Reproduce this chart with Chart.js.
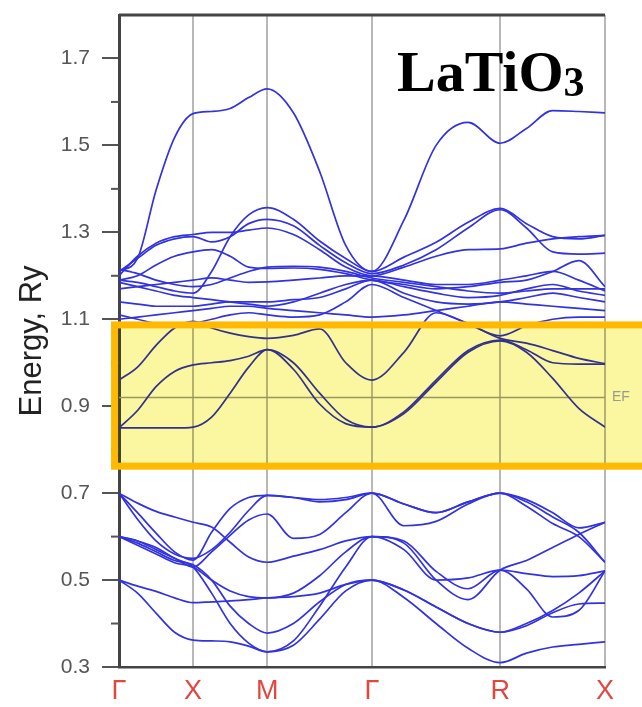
<!DOCTYPE html>
<html><head><meta charset="utf-8">
<script src="https://cdn.jsdelivr.net/npm/chart.js@4"></script>
<style>html,body{margin:0;padding:0;background:#fff;}canvas{display:block}</style>
</head><body>
<canvas id="c" width="642" height="707"></canvas>
<script>
// High-symmetry path
const K_POS = [0, 0.5, 1.0, 1.707, 2.573, 3.280];
const K_LABELS = ['Γ', 'X', 'M', 'Γ', 'R', 'X'];
// k sampling along Γ-X-M-Γ-R-X
const K = [0, 0.125, 0.25, 0.375, 0.5, 0.625, 0.75, 0.875, 1.0, 1.177, 1.354, 1.530, 1.707, 1.923, 2.140, 2.356, 2.573, 2.750, 2.927, 3.103, 3.280];
const Y_TICKS = [0.3, 0.5, 0.7, 0.9, 1.1, 1.3, 1.5, 1.7];
const Y_MINOR = [0.4, 0.6, 0.8, 1.0, 1.2, 1.4, 1.6];
const EF = 0.92;
const TITLE = 'LaTiO';
const TITLE_SUB = '3';

// O 2p bands (Ry)
const L1 = [0.50, 0.47, 0.424, 0.38, 0.362, 0.36, 0.358, 0.348, 0.335, 0.35, 0.41, 0.475, 0.50, 0.46, 0.40, 0.343, 0.31, 0.332, 0.346, 0.352, 0.358];
const L2 = [0.50, 0.486, 0.474, 0.459, 0.448, 0.45, 0.452, 0.455, 0.459, 0.462, 0.47, 0.49, 0.50, 0.477, 0.438, 0.40, 0.38, 0.395, 0.425, 0.445, 0.447];
const L3 = [0.60, 0.59, 0.575, 0.55, 0.53, 0.47, 0.40, 0.355, 0.335, 0.36, 0.44, 0.53, 0.60, 0.585, 0.50, 0.455, 0.523, 0.545, 0.575, 0.605, 0.633];
const L4 = [0.60, 0.585, 0.565, 0.545, 0.535, 0.50, 0.44, 0.40, 0.378, 0.40, 0.45, 0.49, 0.50, 0.477, 0.438, 0.40, 0.38, 0.40, 0.43, 0.47, 0.521];
const L5 = [0.70, 0.655, 0.608, 0.565, 0.546, 0.61, 0.665, 0.69, 0.695, 0.69, 0.68, 0.685, 0.70, 0.625, 0.635, 0.675, 0.70, 0.68, 0.645, 0.61, 0.541];
const L6 = [0.60, 0.59, 0.57, 0.55, 0.53, 0.565, 0.603, 0.638, 0.652, 0.596, 0.605, 0.655, 0.70, 0.675, 0.655, 0.68, 0.70, 0.685, 0.655, 0.62, 0.633];
const L7 = [0.70, 0.677, 0.658, 0.645, 0.633, 0.622, 0.587, 0.553, 0.541, 0.555, 0.57, 0.59, 0.60, 0.57, 0.50, 0.505, 0.523, 0.515, 0.508, 0.51, 0.521];
const L8 = [0.70, 0.64, 0.59, 0.56, 0.55, 0.57, 0.61, 0.66, 0.695, 0.69, 0.685, 0.69, 0.70, 0.675, 0.655, 0.68, 0.70, 0.67, 0.63, 0.60, 0.541];
const L9 = [0.60, 0.58, 0.56, 0.54, 0.53, 0.50, 0.475, 0.462, 0.459, 0.47, 0.51, 0.565, 0.60, 0.59, 0.52, 0.48, 0.523, 0.48, 0.415, 0.43, 0.521];
// Ti t2g bands
const T1 = [0.96, 0.99, 1.04, 1.08, 1.095, 1.08, 1.068, 1.06, 1.056, 1.063, 1.078, 1.0, 0.96, 1.024, 1.115, 1.09, 1.056, 1.045, 1.028, 1.01, 0.998];
const T2 = [0.85, 0.89, 0.945, 0.98, 0.995, 1.0, 1.005, 1.015, 1.03, 0.985, 0.905, 0.86, 0.852, 0.883, 0.955, 1.024, 1.05, 1.024, 0.964, 0.895, 0.852];
const T3 = [0.85, 0.85, 0.85, 0.85, 0.852, 0.875, 0.93, 0.99, 1.03, 1.0, 0.93, 0.87, 0.852, 0.887, 0.96, 1.028, 1.052, 1.03, 1.0, 0.997, 0.997];
// upper conduction bands
const U1 = [1.21, 1.24, 1.397, 1.518, 1.573, 1.578, 1.585, 1.61, 1.63, 1.575, 1.44, 1.27, 1.21, 1.328, 1.50, 1.553, 1.505, 1.539, 1.58, 1.578, 1.575];
const U2 = [1.19, 1.185, 1.175, 1.165, 1.16, 1.21, 1.29, 1.34, 1.357, 1.33, 1.28, 1.24, 1.21, 1.243, 1.277, 1.323, 1.355, 1.32, 1.29, 1.285, 1.293];
const U3 = [1.21, 1.24, 1.27, 1.285, 1.29, 1.278, 1.29, 1.32, 1.33, 1.315, 1.27, 1.23, 1.205, 1.225, 1.26, 1.31, 1.352, 1.31, 1.255, 1.25, 1.252];
const U4 = [1.20, 1.245, 1.275, 1.29, 1.295, 1.30, 1.30, 1.305, 1.31, 1.295, 1.26, 1.22, 1.20, 1.22, 1.245, 1.26, 1.262, 1.275, 1.285, 1.29, 1.293];
const U5 = [1.19, 1.20, 1.225, 1.245, 1.255, 1.26, 1.245, 1.22, 1.217, 1.218, 1.215, 1.205, 1.19, 1.18, 1.17, 1.175, 1.185, 1.19, 1.21, 1.235, 1.175];
const U6 = [1.215, 1.205, 1.19, 1.18, 1.175, 1.18, 1.195, 1.21, 1.22, 1.222, 1.22, 1.21, 1.195, 1.185, 1.175, 1.165, 1.16, 1.165, 1.17, 1.17, 1.17];
const U7 = [1.185, 1.175, 1.165, 1.155, 1.15, 1.145, 1.14, 1.135, 1.13, 1.14, 1.16, 1.18, 1.19, 1.175, 1.16, 1.15, 1.155, 1.17, 1.18, 1.165, 1.155];
const U8 = [1.14, 1.135, 1.13, 1.13, 1.13, 1.135, 1.14, 1.14, 1.14, 1.145, 1.15, 1.17, 1.19, 1.16, 1.14, 1.135, 1.14, 1.15, 1.16, 1.15, 1.14];
const U9 = [1.10, 1.105, 1.11, 1.115, 1.12, 1.125, 1.13, 1.13, 1.125, 1.12, 1.115, 1.11, 1.105, 1.11, 1.12, 1.13, 1.14, 1.135, 1.13, 1.125, 1.12];
const U10 = [1.11, 1.10, 1.09, 1.085, 1.09, 1.10, 1.11, 1.115, 1.11, 1.105, 1.11, 1.14, 1.18, 1.15, 1.12, 1.09, 1.062, 1.085, 1.10, 1.105, 1.105];
const U11 = [1.17, 1.175, 1.18, 1.185, 1.19, 1.195, 1.19, 1.185, 1.186, 1.19, 1.195, 1.20, 1.20, 1.19, 1.18, 1.18, 1.19, 1.20, 1.21, 1.19, 1.165];

const BANDS = [L1, L2, L3, L4, L5, L6, L7, L8, L9, T1, T2, T3, U1, U2, U3, U4, U5, U6, U7, U8, U9, U10, U11];
const BOX = {x0: -0.03, top: 1.087, bottom: 0.762};

const bandSets = BANDS.map(b => ({
  data: K.map((k, i) => ({x: k, y: b[i]})),
  borderColor: 'rgb(50,50,222)',
  borderWidth: 1.7,
  pointRadius: 0,
  fill: false,
  cubicInterpolationMode: 'monotone'
}));
const efSet = {
  data: [{x: K_POS[0], y: EF}, {x: K_POS[K_POS.length - 1], y: EF}],
  borderColor: '#9c9c9c', borderWidth: 1.5, pointRadius: 0, fill: false
};

const deco = {
  id: 'deco',
  afterDraw(chart) {
    const {ctx, chartArea: a, scales: {x, y}} = chart;
    ctx.save();
    // top frame line
    ctx.strokeStyle = '#444'; ctx.lineWidth = 3;
    ctx.beginPath(); ctx.moveTo(a.left, a.top); ctx.lineTo(a.right, a.top); ctx.stroke();
    // minor ticks
    ctx.strokeStyle = '#555'; ctx.lineWidth = 2;
    Y_MINOR.forEach(v => {
      const py = y.getPixelForValue(v);
      ctx.beginPath(); ctx.moveTo(a.left - 8, py); ctx.lineTo(a.left, py); ctx.stroke();
    });
    // highlight box
    const bx0 = x.getPixelForValue(BOX.x0), bx1 = chart.width + 10;
    const by0 = y.getPixelForValue(BOX.top), by1 = y.getPixelForValue(BOX.bottom);
    ctx.globalCompositeOperation = 'multiply';
    ctx.fillStyle = '#fbf6a0';
    ctx.fillRect(bx0, by0, bx1 - bx0, by1 - by0);
    ctx.globalCompositeOperation = 'source-over';
    ctx.strokeStyle = '#ffb900'; ctx.lineWidth = 7;
    ctx.strokeRect(bx0, by0, bx1 - bx0, by1 - by0);
    // EF label
    ctx.fillStyle = '#9a9a8a';
    ctx.font = '14px "Liberation Sans", Arial, sans-serif';
    ctx.textAlign = 'left'; ctx.textBaseline = 'middle';
    ctx.fillText('EF', a.right + 7, y.getPixelForValue(EF));
    // title
    ctx.fillStyle = '#000';
    ctx.font = 'bold 58px "Liberation Serif", "Times New Roman", serif';
    ctx.textBaseline = 'alphabetic';
    ctx.fillText(TITLE, 397, 91);
    const w = ctx.measureText(TITLE).width;
    ctx.font = 'bold 42px "Liberation Serif", "Times New Roman", serif';
    ctx.fillText(TITLE_SUB, 397 + w, 96);
    ctx.restore();
  }
};

new Chart(document.getElementById('c'), {
  type: 'line',
  data: {datasets: [...bandSets, efSet]},
  options: {
    responsive: false,
    animation: false,
    layout: {padding: {top: 15, right: 37, left: 0, bottom: 0}},
    plugins: {legend: {display: false}, tooltip: {enabled: false}},
    scales: {
      x: {
        type: 'linear', min: K_POS[0], max: K_POS[K_POS.length - 1],
        afterBuildTicks: s => { s.ticks = K_POS.map(v => ({value: v})); },
        afterFit: s => { s.height = 40; s.paddingLeft = 0; s.paddingRight = 0; },
        ticks: {
          autoSkip: false, maxRotation: 0, padding: 8,
          color: '#e2473f',
          font: {size: 27, family: '"Liberation Sans", Arial, sans-serif'},
          callback: (v, i) => K_LABELS[i]
        },
        grid: {color: '#b8b8b8', lineWidth: 2, drawTicks: false, drawOnChartArea: true},
        border: {display: true, color: '#444', width: 2.5}
      },
      y: {
        type: 'linear', min: 0.3, max: 1.8,
        afterBuildTicks: s => { s.ticks = Y_TICKS.map(v => ({value: v})); },
        afterFit: s => { s.width = 119; s.paddingTop = 0; s.paddingBottom = 0; },
        ticks: {
          padding: 12, color: '#555',
          font: {size: 21, family: '"Liberation Sans", Arial, sans-serif'},
          callback: v => v.toFixed(1)
        },
        grid: {drawOnChartArea: false, drawTicks: true, tickLength: 17, tickColor: '#555', lineWidth: 2},
        border: {display: true, color: '#444', width: 3},
        title: {
          display: true, text: 'Energy, Ry', color: '#222',
          font: {size: 31, family: '"Liberation Sans", Arial, sans-serif'},
          padding: {top: 14, bottom: 0}
        }
      }
    }
  },
  plugins: [deco]
});
</script>
</body></html>
